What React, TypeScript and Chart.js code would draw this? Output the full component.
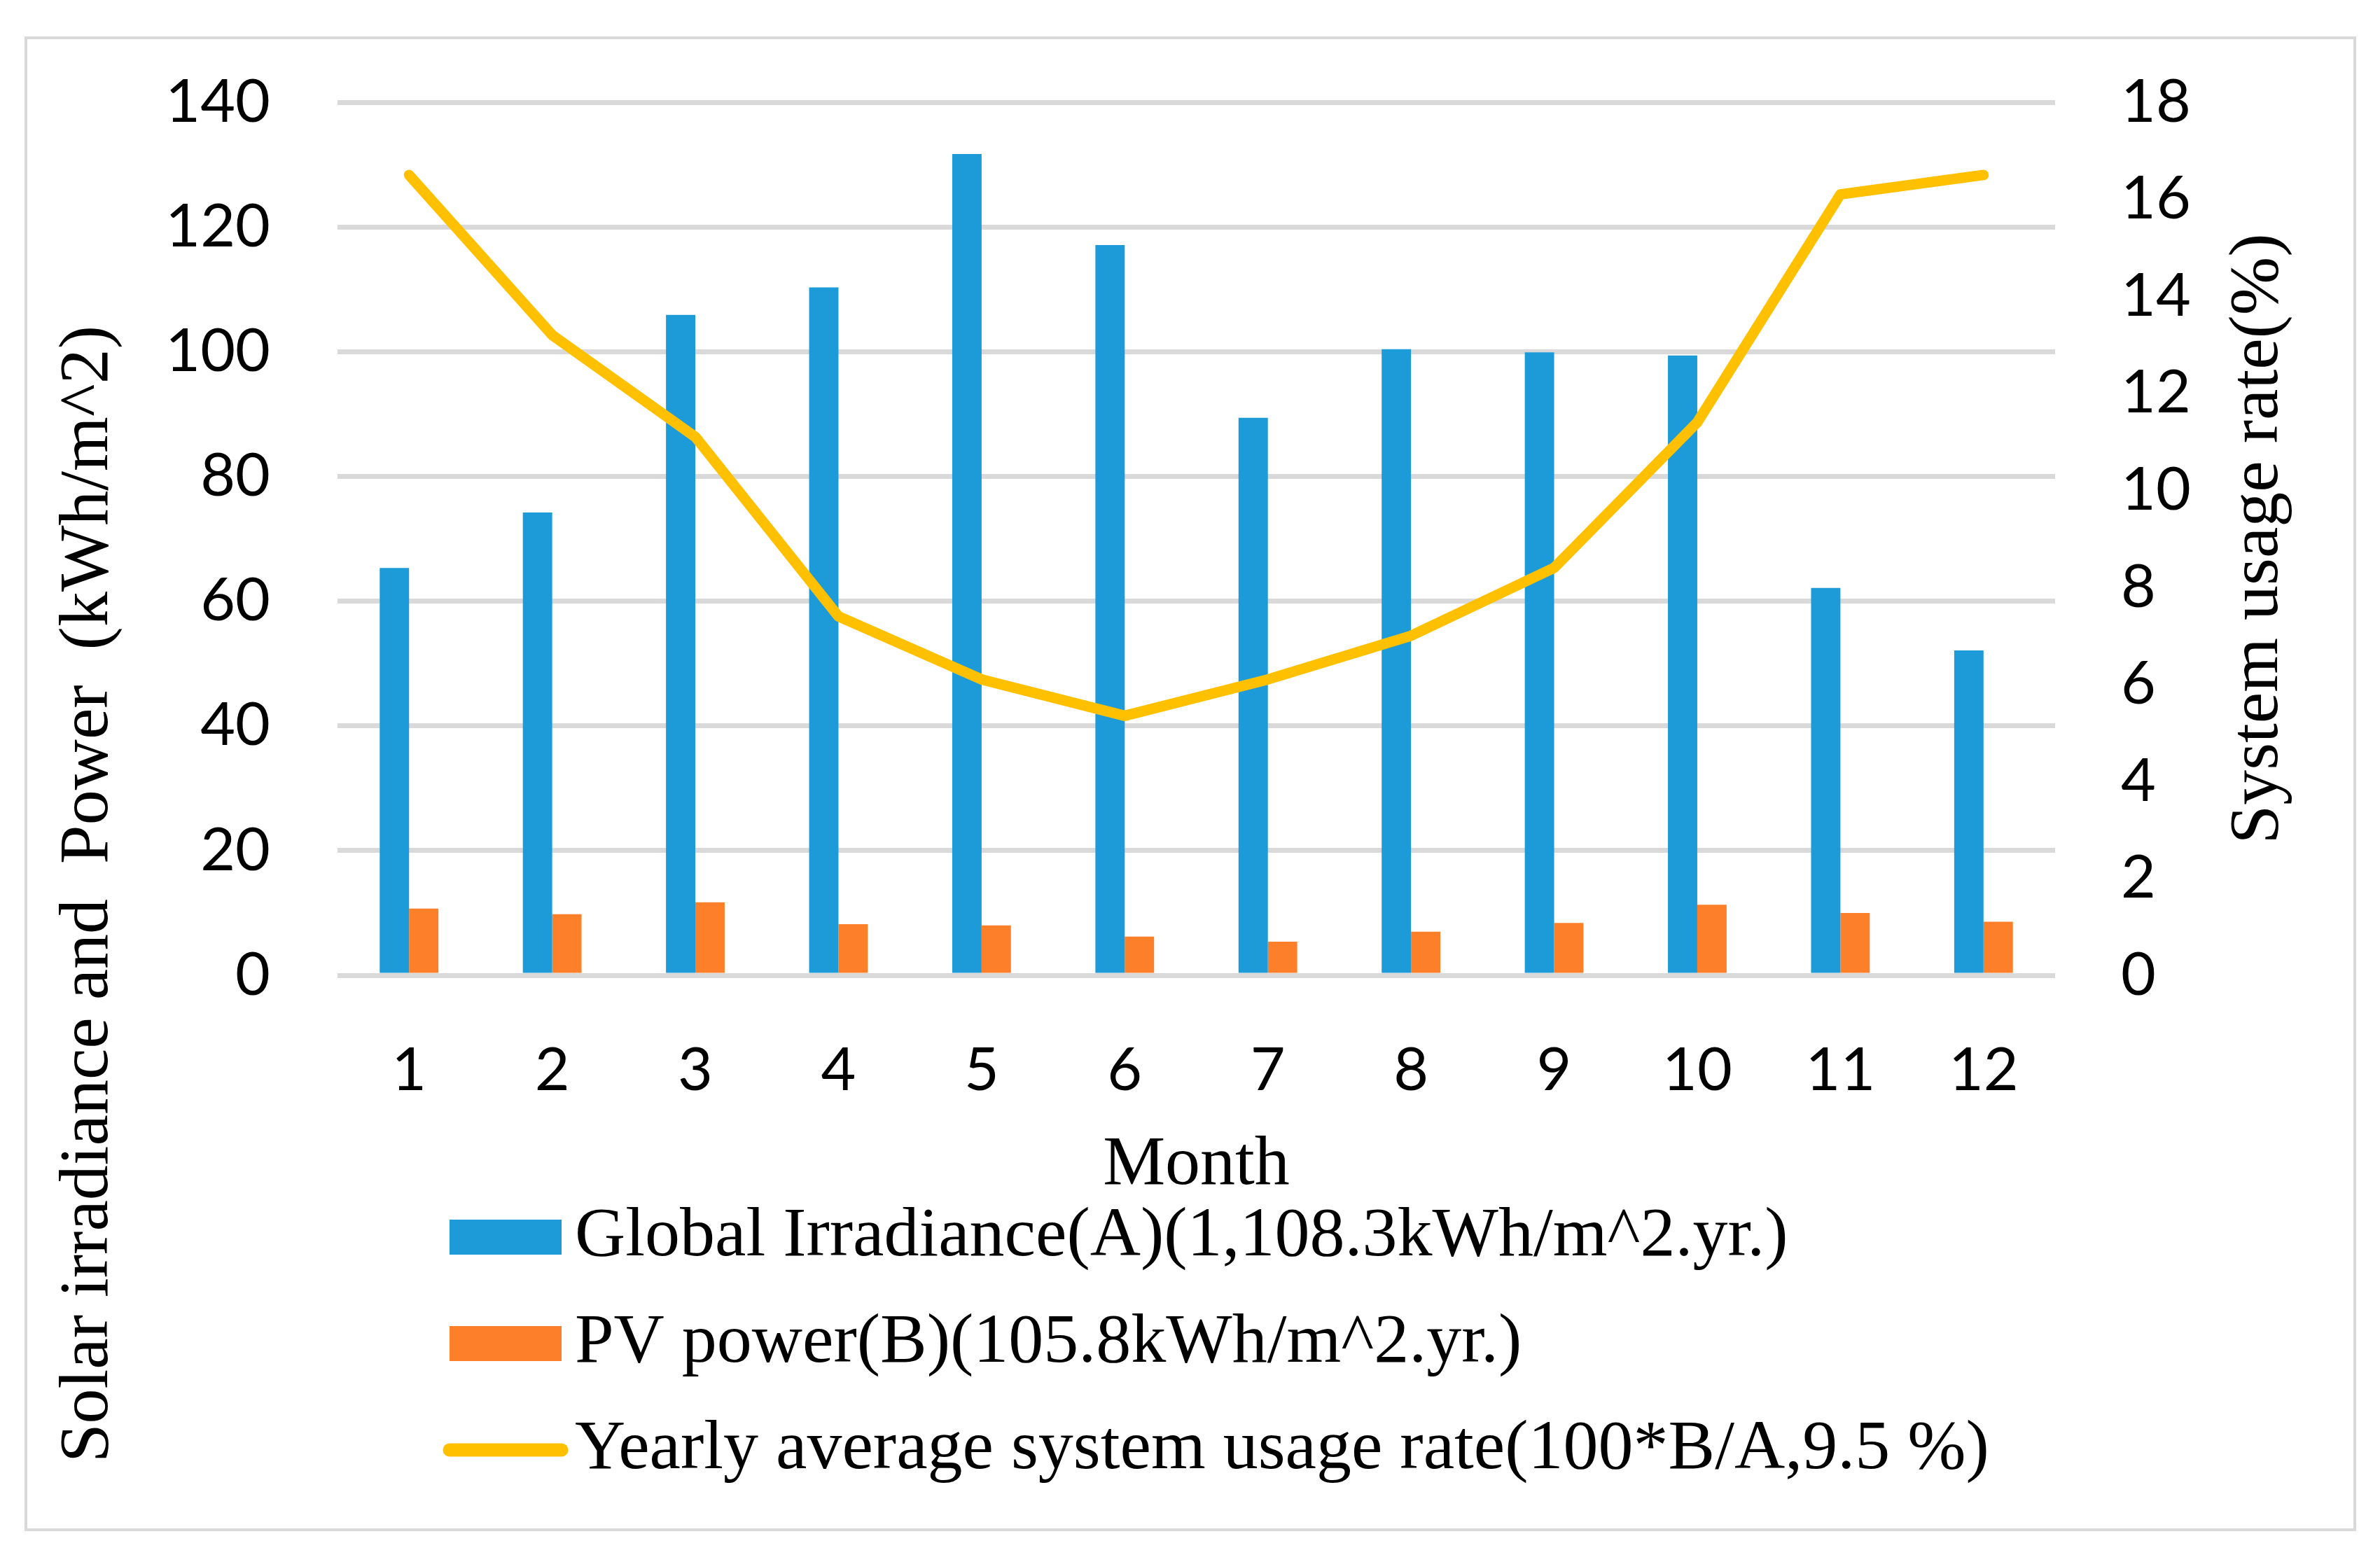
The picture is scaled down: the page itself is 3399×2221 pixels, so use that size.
import { useEffect, useRef } from "react";
import { Chart, registerables } from "chart.js";

Chart.register(...registerables);

const months = ["1", "2", "3", "4", "5", "6", "7", "8", "9", "10", "11", "12"];
// kWh/m^2 per month
const globalIrradiance = [65.3, 74.2, 105.9, 110.3, 131.7, 117.1, 89.4, 100.4, 99.9, 99.4, 62.1, 52.1];
const pvPower = [10.7, 9.8, 11.7, 8.2, 8.0, 6.2, 5.4, 7.0, 8.4, 11.3, 10.0, 8.6];
// % on the right axis
const usageRate = [16.5, 13.2, 11.1, 7.4, 6.1, 5.35, 6.1, 7.0, 8.4, 11.4, 16.1, 16.5];

const seriesNames = [
  "Global Irradiance(A)(1,108.3kWh/m^2.yr.)",
  "PV power(B)(105.8kWh/m^2.yr.)",
  "Yearly average system usage rate(100*B/A,9.5 %)",
];
const seriesColors = ["#1d9bd8", "#fe7f29", "#ffc000"];

const leftMax = 140;
const leftStep = 20;
const rightMax = 18;
const rightStep = 2;

const xTitle = "Month";
const leftTitle = "Solar irradiance and  Power  (kWh/m^2)";
const rightTitle = "System usage rate(%)";

const tickFont = { family: "Lato", size: 86, lineHeight: 1 };
const serif = "'Liberation Serif', 'Times New Roman', serif";

function swatch(w: number, h: number, draw: (g: CanvasRenderingContext2D) => void) {
  const c = document.createElement("canvas");
  c.width = w;
  c.height = h;
  const g = c.getContext("2d")!;
  draw(g);
  return c;
}

const framePlugin = {
  id: "frame",
  beforeDraw(chart: any) {
    const { ctx } = chart;
    ctx.save();
    ctx.fillStyle = "#ffffff";
    ctx.fillRect(0, 0, chart.width, chart.height);
    ctx.strokeStyle = "#d9d9d9";
    ctx.lineWidth = 4;
    ctx.strokeRect(37, 54, 3326, 2131);
    ctx.restore();
    // legend rows start under the plot, not at the frame edge
    if (chart.legend) chart.legend.left = 621;
  },
  afterDraw(chart: any) {
    const { ctx, chartArea } = chart;
    ctx.save();
    ctx.fillStyle = "#000";
    ctx.font = `100px ${serif}`;
    ctx.textAlign = "center";
    ctx.textBaseline = "alphabetic";
    ctx.save();
    ctx.translate(153, 1277);
    ctx.rotate(-Math.PI / 2);
    ctx.fillText(leftTitle, 0, 0);
    ctx.restore();
    ctx.translate(3252, (chartArea.top + chartArea.bottom) / 2);
    ctx.rotate(-Math.PI / 2);
    ctx.fillText(rightTitle, 0, 0);
    ctx.restore();
  },
};

export default function App() {
  const canvasRef = useRef<HTMLCanvasElement | null>(null);
  const chartRef = useRef<Chart | null>(null);

  useEffect(() => {
    document.body.style.margin = "0";
    if (!canvasRef.current) return;
    if (chartRef.current) chartRef.current.destroy();

    const swatches = [
      swatch(160, 50, (g) => {
        g.fillStyle = seriesColors[0];
        g.fillRect(0, 0, 160, 50);
      }),
      swatch(160, 50, (g) => {
        g.fillStyle = seriesColors[1];
        g.fillRect(0, 0, 160, 50);
      }),
      swatch(180, 20, (g) => {
        g.strokeStyle = seriesColors[2];
        g.lineWidth = 19;
        g.lineCap = "round";
        g.beginPath();
        g.moveTo(10, 10);
        g.lineTo(170, 10);
        g.stroke();
      }),
    ];

    chartRef.current = new Chart(canvasRef.current, {
      type: "bar",
      data: {
        labels: months,
        datasets: [
          {
            type: "bar",
            label: seriesNames[0],
            data: globalIrradiance,
            backgroundColor: seriesColors[0],
            yAxisID: "y",
            order: 1,
          },
          {
            type: "bar",
            label: seriesNames[1],
            data: pvPower,
            backgroundColor: seriesColors[1],
            yAxisID: "y",
            order: 1,
          },
          {
            type: "line",
            label: seriesNames[2],
            data: usageRate,
            borderColor: seriesColors[2],
            backgroundColor: seriesColors[2],
            borderWidth: 15,
            borderCapStyle: "round",
            borderJoinStyle: "round",
            pointRadius: 0,
            tension: 0,
            yAxisID: "y1",
            order: 0,
          } as any,
        ],
      },
      options: {
        animation: false,
        responsive: true,
        maintainAspectRatio: false,
        layout: { padding: { top: 146, left: 0, right: 0, bottom: 90 } },
        datasets: { bar: { categoryPercentage: 0.41, barPercentage: 1 } },
        scales: {
          x: {
            grid: { display: false },
            border: { display: false },
            ticks: { font: tickFont, color: "#000", padding: 85, maxRotation: 0, autoSkip: false },
            title: {
              display: true,
              text: xTitle,
              color: "#000",
              font: { family: serif, size: 100, lineHeight: 1 },
              padding: { top: 0, bottom: -50 },
            },
            afterFit: (s: any) => {
              s.height = 272;
            },
          },
          y: {
            position: "left",
            min: 0,
            max: leftMax,
            ticks: { stepSize: leftStep, padding: 96, font: tickFont, color: "#000" },
            grid: { color: "#d9d9d9", lineWidth: 7, drawTicks: false },
            border: { display: false },
            afterFit: (s: any) => {
              s.width = 482;
            },
          },
          y1: {
            position: "right",
            min: 0,
            max: rightMax,
            ticks: { stepSize: rightStep, padding: 94, font: tickFont, color: "#000" },
            grid: { display: false, drawTicks: false },
            border: { display: false },
            afterFit: (s: any) => {
              s.width = 464;
            },
          },
        },
        plugins: {
          tooltip: { enabled: false },
          legend: {
            position: "bottom",
            align: "start",
            labels: {
              color: "#000",
              font: { family: serif, size: 100, lineHeight: 1 },
              usePointStyle: true,
              pointStyleWidth: 98,
              boxHeight: 50,
              padding: 52,
              generateLabels: (chart: any) => {
                const items = Chart.defaults.plugins.legend.labels.generateLabels(chart);
                return items
                  .sort((a: any, b: any) => a.datasetIndex - b.datasetIndex)
                  .map((item: any) => ({
                    ...item,
                    pointStyle: swatches[item.datasetIndex],
                    lineWidth: 0,
                  }));
              },
            },
          },
        },
      } as any,
      plugins: [framePlugin],
    });

    return () => {
      if (chartRef.current) {
        chartRef.current.destroy();
        chartRef.current = null;
      }
    };
  }, []);

  return (
    <div style={{ width: 3399, height: 2221, position: "relative", background: "#fff" }}>
      <canvas ref={canvasRef}></canvas>
    </div>
  );
}
